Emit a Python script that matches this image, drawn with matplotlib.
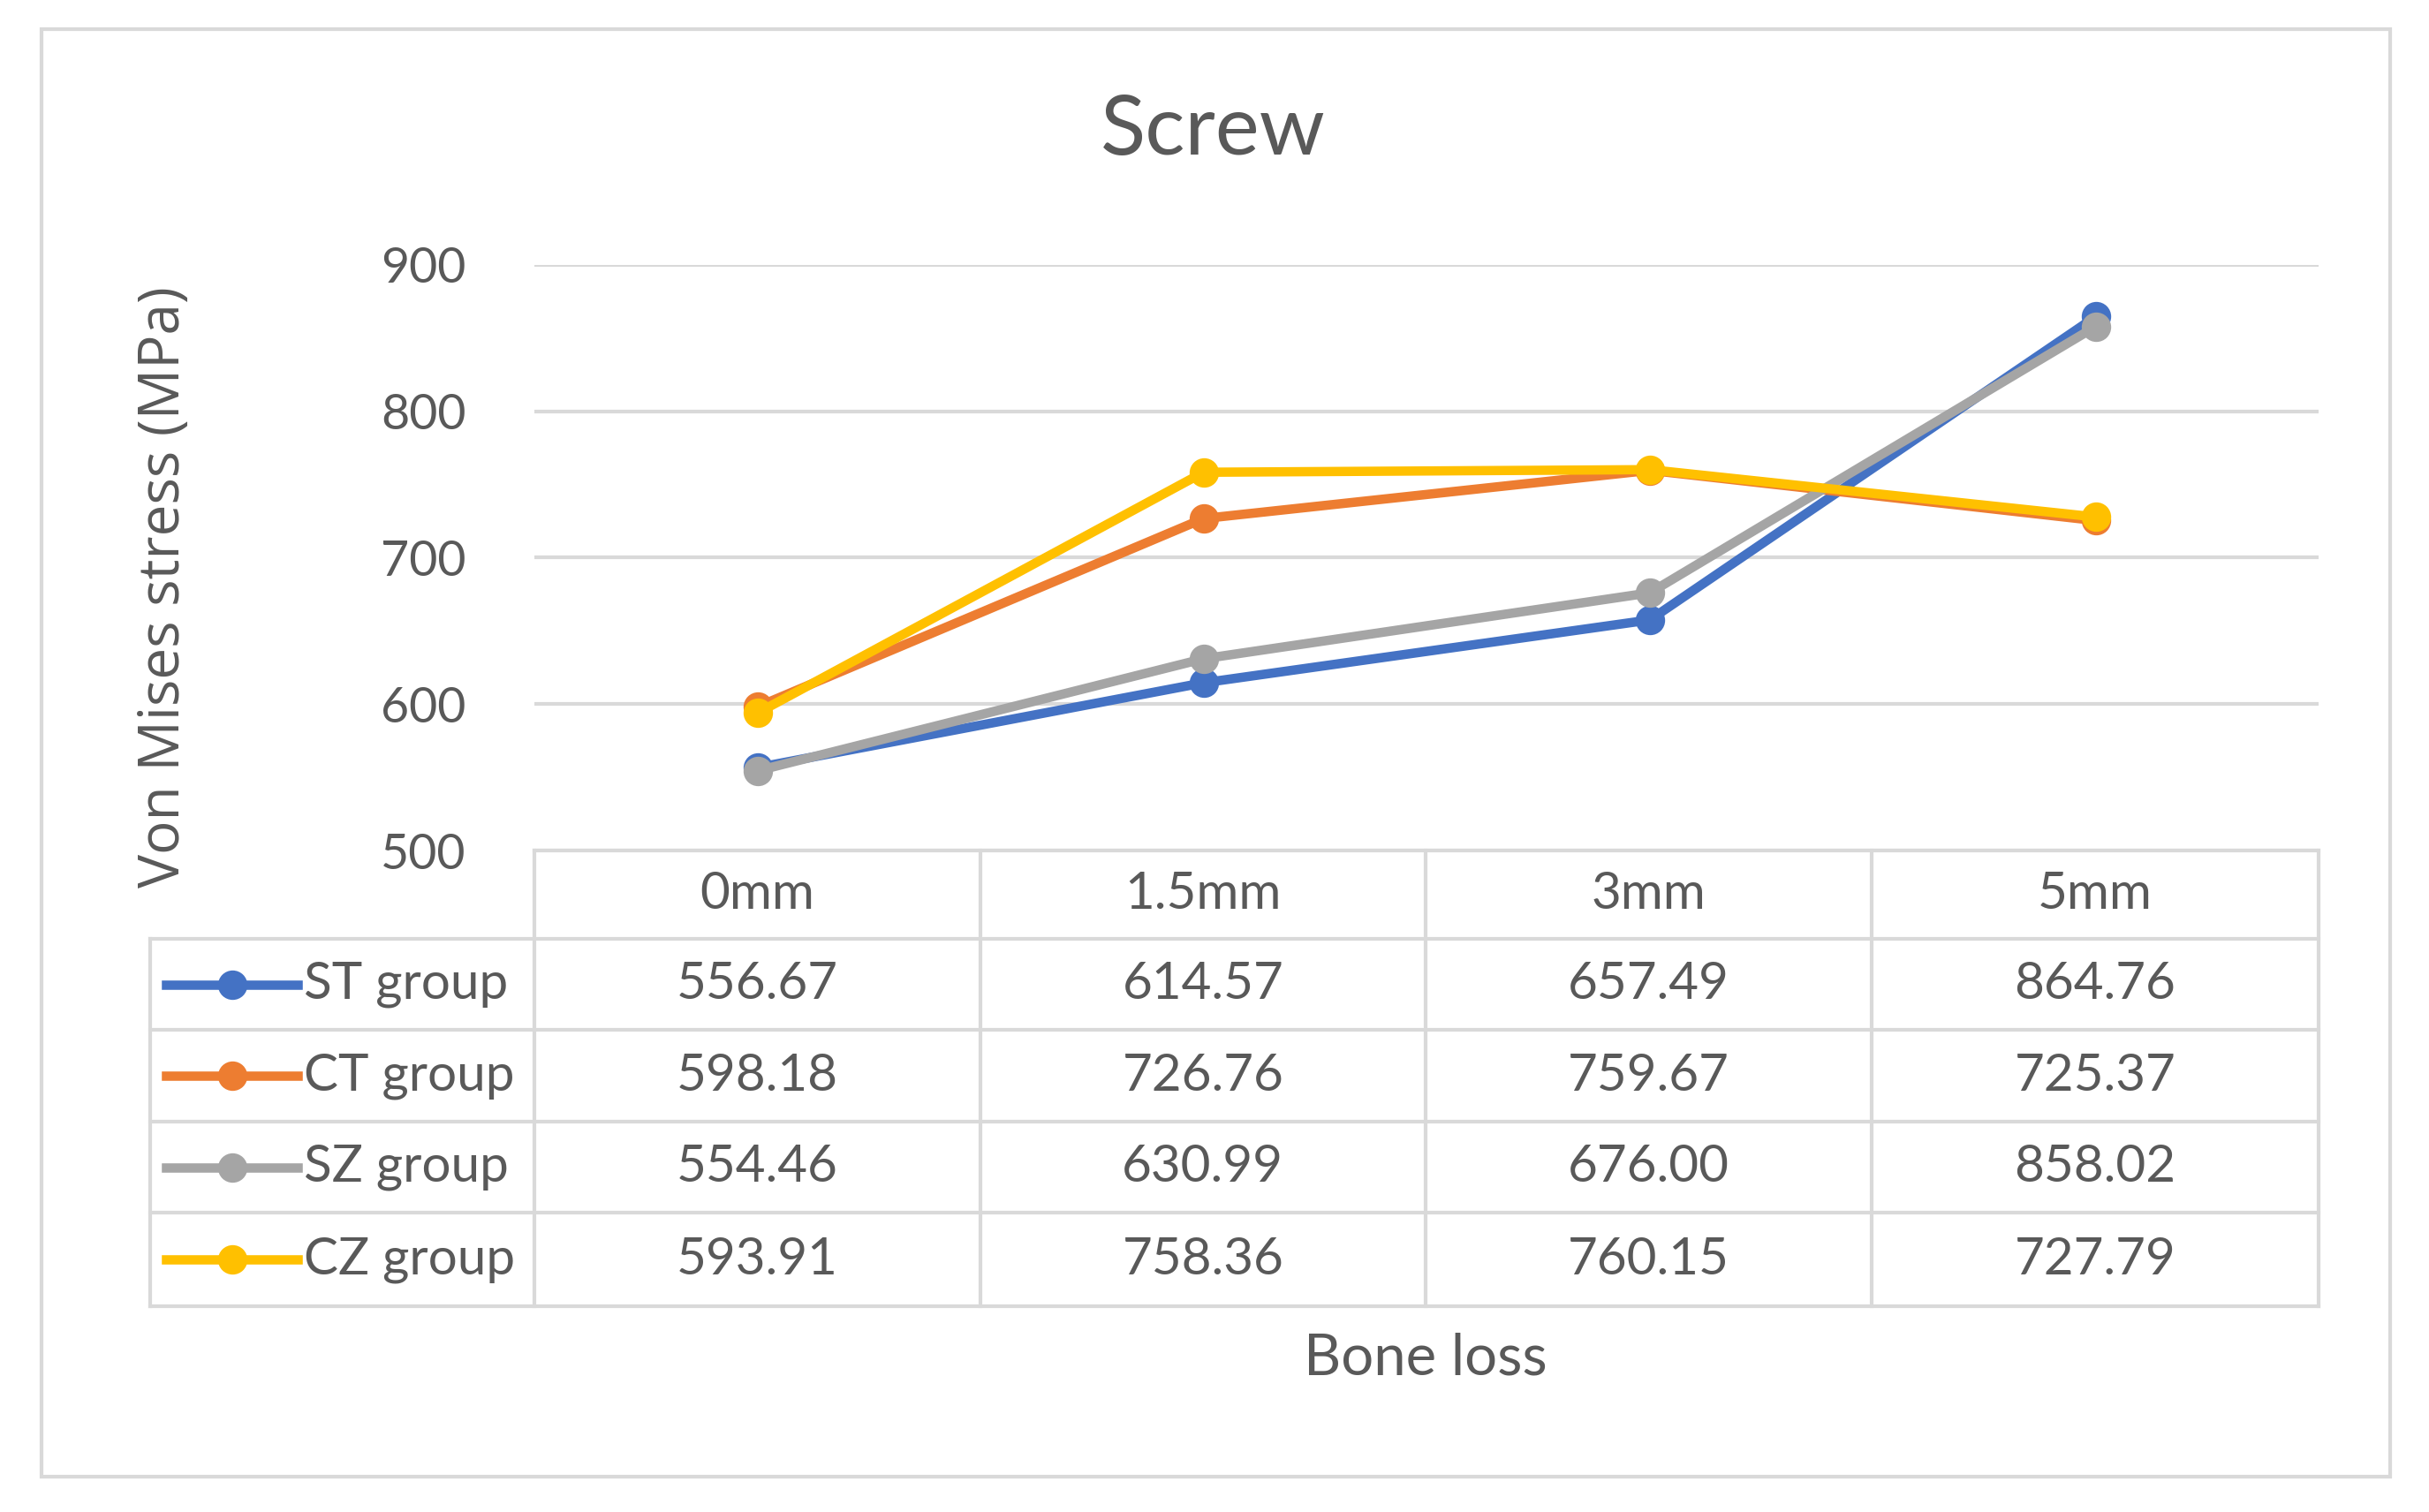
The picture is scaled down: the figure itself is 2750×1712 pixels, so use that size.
import matplotlib.pyplot as plt
from matplotlib.lines import Line2D
from matplotlib.patches import Rectangle

# Data
categories = ["0mm", "1.5mm", "3mm", "5mm"]
group_names = ["ST group", "CT group", "SZ group", "CZ group"]
st_values = [556.67, 614.57, 657.49, 864.76]
ct_values = [598.18, 726.76, 759.67, 725.37]
sz_values = [554.46, 630.99, 676.00, 858.02]
cz_values = [593.91, 758.36, 760.15, 727.79]
group_colors = ["#4472C4", "#ED7D31", "#A5A5A5", "#FFC000"]
y_ticks = [500, 600, 700, 800, 900]

TEXT_COLOR = "#595959"
GRID_COLOR = "#D9D9D9"
FONT = "Lato"

W, H = 1568, 976  # layout measured on the shrunk reference


def fx(x):
    return x / W


def fy(y):
    return 1 - y / H


fig = plt.figure(figsize=(13.75, 8.56), dpi=200)
fig.patch.set_facecolor("white")

# outer chart border
fig.add_artist(Rectangle((fx(27), fy(953)), fx(1543) - fx(27), fy(19) - fy(953),
                         transform=fig.transFigure, fill=False,
                         edgecolor="#D9D9D9", linewidth=1.5))

# main plot area
ax = fig.add_axes([fx(345), fy(549), fx(1497) - fx(345), fy(171) - fy(549)])
series = [st_values, ct_values, sz_values, cz_values]
for values, color in zip(series, group_colors):
    ax.plot(range(len(categories)), values, color=color, linewidth=3.8,
            marker="o", markersize=11, zorder=3)
ax.set_xlim(-0.5, len(categories) - 0.5)
ax.set_ylim(500, 900)
ax.set_yticks(y_ticks)
ax.set_yticklabels([str(t) for t in y_ticks], fontsize=20, color=TEXT_COLOR, family=FONT)
ax.tick_params(axis="y", length=0, pad=28)
ax.set_xticks([])
ax.grid(axis="y", color=GRID_COLOR, linewidth=1.5)
ax.set_axisbelow(True)
for side in ax.spines:
    ax.spines[side].set_visible(False)

fig.text(fx(783), fy(85), "Screw", ha="center", va="center", fontsize=34,
         color=TEXT_COLOR, family=FONT)
fig.text(fx(106), fy(379), "Von Mises stress (MPa)", ha="center", va="center",
         rotation=90, fontsize=23, color=TEXT_COLOR, family="Open Sans")
fig.text(fx(920), fy(877), "Bone loss", ha="center", va="center", fontsize=23.5,
         color=TEXT_COLOR, family=FONT)

# data table under the plot
col_edges = [97, 345, 633, 920, 1208, 1497]
row_edges = [549, 606, 665, 724, 783, 843]
line_kw = dict(color=GRID_COLOR, linewidth=1.5, transform=fig.transFigure)

# horizontal lines
fig.add_artist(Line2D([fx(345), fx(1497)], [fy(row_edges[0])] * 2, **line_kw))
for y in row_edges[1:]:
    fig.add_artist(Line2D([fx(97), fx(1497)], [fy(y)] * 2, **line_kw))
# vertical lines
fig.add_artist(Line2D([fx(97)] * 2, [fy(row_edges[1]), fy(row_edges[-1])], **line_kw))
for x in col_edges[1:]:
    fig.add_artist(Line2D([fx(x)] * 2, [fy(row_edges[0]), fy(row_edges[-1])], **line_kw))

# header row
for i, cat in enumerate(categories):
    cx = (col_edges[i + 1] + col_edges[i + 2]) / 2
    cy = (row_edges[0] + row_edges[1]) / 2
    fig.text(fx(cx), fy(cy), cat, ha="center", va="center", fontsize=21,
             color=TEXT_COLOR, family=FONT)

# body rows with legend keys
for r, (name, values, color) in enumerate(zip(group_names, series, group_colors)):
    cy = (row_edges[r + 1] + row_edges[r + 2]) / 2
    fig.add_artist(Line2D([fx(107), fx(192)], [fy(cy)] * 2, color=color,
                          linewidth=3.8, transform=fig.transFigure))
    fig.add_artist(Line2D([fx(150)], [fy(cy)], color=color, marker="o",
                          markersize=11, linestyle="none", transform=fig.transFigure))
    fig.text(fx(196), fy(cy), name, ha="left", va="center", fontsize=21,
             color=TEXT_COLOR, family=FONT)
    for i, v in enumerate(values):
        cx = (col_edges[i + 1] + col_edges[i + 2]) / 2
        fig.text(fx(cx), fy(cy), f"{v:.2f}", ha="center", va="center", fontsize=21,
                 color=TEXT_COLOR, family=FONT)

fig.savefig("out.png", dpi=200, facecolor="white")
